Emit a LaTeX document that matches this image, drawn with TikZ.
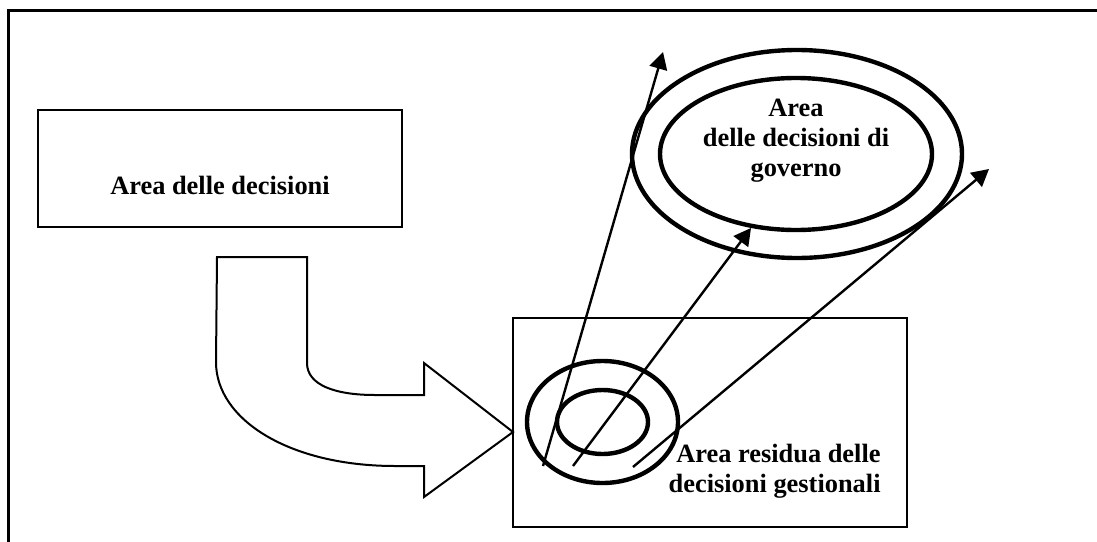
\documentclass[tikz,border=0pt]{standalone}
\usepackage{fontspec}
\setmainfont{Liberation Serif}
\usetikzlibrary{arrows.meta}
\begin{document}
\begin{tikzpicture}[x=0.5pt,y=-0.5pt,
  lbl/.style={font=\fontsize{13.2}{15}\selectfont\bfseries, inner sep=0pt},
  frame/.style={line width=1.5pt},
  box/.style={line width=1.2pt},
  bent/.style={line width=1pt, line join=miter},
  ring/.style={line width=2.2pt},
  ray/.style={line width=1.2pt, -{Triangle[length=8.5pt,width=9pt]}}
]
\useasboundingbox (0,0) rectangle (1097,541);
\clip (0,0) rectangle (1097,541);
\fill[white] (0,0) rectangle (1097,541);
% outer frame (only top and left visible)
\draw[frame] (8,580) -- (8,10) -- (1140,10);
% left box
\draw[box] (38,110) rectangle (402,227);
\node[lbl, anchor=base] (tdec) at (220,194) {Area delle decisioni};
% right box
\draw[box] (513,318) rectangle (907,527);
% bent block arrow
\draw[bent] (217,257) -- (307,257) -- (307,363)
  .. controls (307,385) and (335,395) .. (375,395)
  -- (424,395) -- (424,363) -- (513,432) -- (424,497) -- (424,466) -- (395,466)
  .. controls (290,466) and (216,420) .. (216,362) -- cycle;
% ellipses
\draw[ring] (797,154) ellipse [x radius=82.5pt, y radius=52pt];
\draw[ring] (796,154) ellipse [x radius=68pt, y radius=38pt];
\draw[ring] (602.5,422) ellipse [x radius=37.75pt, y radius=30.5pt];
\draw[ring] (602.5,422) ellipse [x radius=22.75pt, y radius=16pt];
% rays
\coordinate (s1) at (543,466);
\coordinate (s2) at (573,466);
\coordinate (s3) at (633,467);
\coordinate (e1) at (663,52);
\coordinate (e2) at (751,228);
\coordinate (e3) at (989,169);
\draw[ray] (s1) -- (e1);
\draw[ray] (s2) -- (e2);
\draw[ray] (s3) -- (e3);
% labels
\node[lbl, anchor=base] (g1) at (796,116) {Area};
\node[lbl, anchor=base] (g2) at (796,146) {delle decisioni di};
\node[lbl, anchor=base] (g3) at (796,176) {governo};
\node[lbl, anchor=base east] (r1) at (881,462) {Area residua delle};
\node[lbl, anchor=base east] (r2) at (881,492) {decisioni gestionali};
\end{tikzpicture}
\end{document}
